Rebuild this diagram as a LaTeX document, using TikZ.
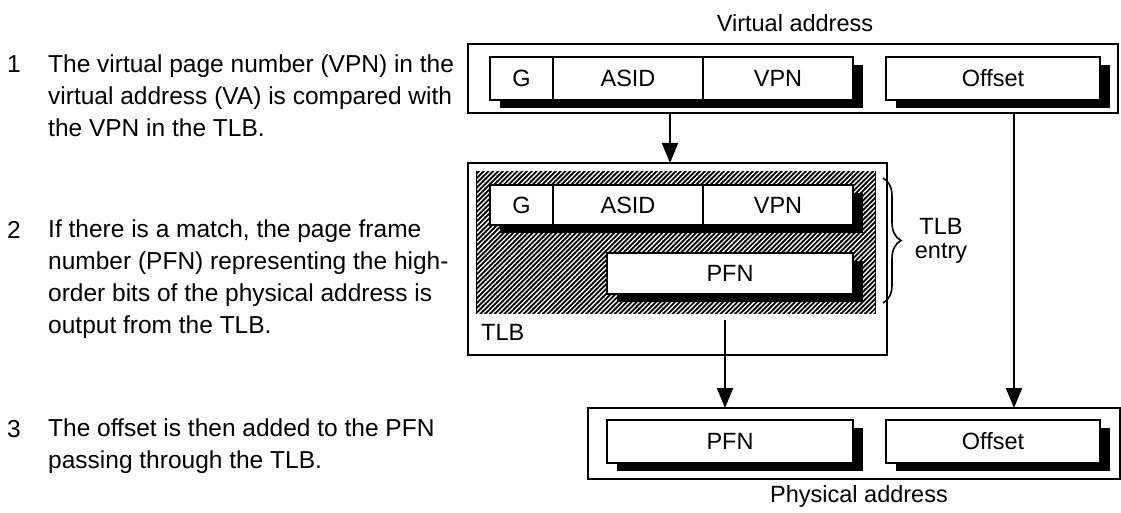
\documentclass[tikz,border=0pt]{standalone}
\usepackage{fontspec}
\setmainfont{Liberation Sans}
\usetikzlibrary{arrows.meta,positioning,shadows,patterns.meta,decorations.pathreplacing}

\newcommand\lblsize{\fontsize{23.5}{24}\selectfont}
\newcommand\txtsize{\fontsize{24.5}{31.8}\selectfont}

\tikzset{
  cell/.style={draw, line width=1.6pt, fill=white, inner sep=0pt, outer sep=0pt, font=\lblsize,
    drop shadow={shadow xshift=10pt, shadow yshift=-8pt, fill=black, opacity=1}},
  frame/.style={draw, line width=1.7pt, inner sep=0pt, outer sep=0pt},
  arr/.style={line width=2pt, -{Triangle[length=20pt,width=16pt]}},
  item/.style={font=\txtsize, align=left, inner sep=0pt, anchor=north west},
  num/.style={font=\txtsize, inner sep=0pt, anchor=base east},
}

\begin{document}
\begin{tikzpicture}[x=1pt,y=-1pt]
\useasboundingbox (0,0) rectangle (1121,513);

% the three steps
\node[num] (n1) at (21,73) {1};
\node[item] (t1) at (48,55) {The virtual page number (VPN) in the\\virtual address (VA) is compared with\\the VPN in the TLB.};
\node[num] (n2) at (21,238) {2};
\node[item] (t2) at (48,220) {If there is a match, the page frame\\number (PFN) representing the high-\\order bits of the physical address is\\output from the TLB.};
\node[num] (n3) at (21,437) {3};
\node[item] (t3) at (48,419) {The offset is then added to the PFN\\passing through the TLB.};

% virtual address
\node[font=\lblsize, anchor=base] (valbl) at (795,32) {Virtual address};
\node[frame, minimum width=650pt, minimum height=69pt] (vaframe) at (793,78.5) {};
\node[cell, minimum width=63pt, minimum height=43pt] (vag) at (521.5,78.5) {G};
\node[cell, minimum width=150pt, minimum height=43pt, right=0pt of vag] (vaasid) {ASID};
\node[cell, minimum width=150pt, minimum height=43pt, right=0pt of vaasid] (vavpn) {VPN};
\node[cell, minimum width=214pt, minimum height=43pt] (vaoff) at (993,78.5) {Offset};

% TLB
\node[frame, minimum width=419pt, minimum height=192pt] (tlbframe) at (677.5,259) {};
\node[frame, line width=1.2pt, fill=black, postaction={pattern={Lines[angle=45,distance=3.4pt,line width=1.3pt]}, pattern color=white},
  minimum width=398pt, minimum height=141pt] (hatch) at (676,242.5) {};
\node[font=\lblsize, anchor=base west, inner sep=0pt] (tlblbl) at (481,340) {TLB};
\node[cell, minimum width=63pt, minimum height=40pt] (tg) at (521.5,205) {G};
\node[cell, minimum width=150pt, minimum height=40pt, right=0pt of tg] (tasid) {ASID};
\node[cell, minimum width=150pt, minimum height=40pt, right=0pt of tasid] (tvpn) {VPN};
\node[cell, minimum width=246pt, minimum height=41pt] (tpfn) at (730,273.5) {PFN};

\coordinate (bt) at (883,178);
\coordinate (bb) at (883,303);
\draw[decorate, decoration={brace, amplitude=18pt}, line width=1.6pt] (bt) -- (bb);
\node[font=\lblsize, align=center, inner sep=0pt, anchor=north] (entrylbl) at (941,218) {TLB\\entry};

% physical address
\node[frame, minimum width=532pt, minimum height=71pt] (paframe) at (854,443.5) {};
\node[cell, minimum width=246pt, minimum height=43pt] (ppfn) at (730,441.5) {PFN};
\node[cell, minimum width=214pt, minimum height=43pt] (paoff) at (993,441.5) {Offset};
\node[font=\lblsize, anchor=base] (palbl) at (859,502) {Physical address};

% arrows
\coordinate (a1) at (670,0);
\coordinate (a2) at (1014,0);
\coordinate (a3) at (725,0);
\draw[arr] (a1 |- vaframe.south) -- (a1 |- tlbframe.north);
\draw[arr] (a2 |- vaframe.south) -- (a2 |- paframe.north);
\draw[arr] ([yshift=-7pt]a3 |- hatch.south) -- (a3 |- paframe.north);
\end{tikzpicture}
\end{document}
